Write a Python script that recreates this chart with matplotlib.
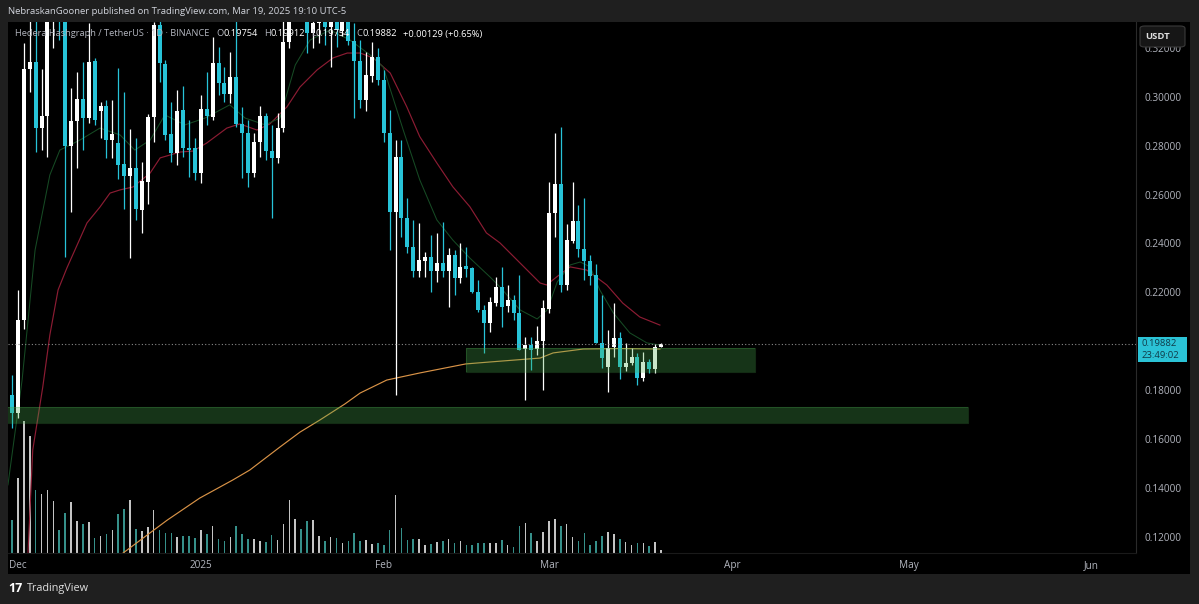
import matplotlib
matplotlib.use("Agg")
import matplotlib.pyplot as plt
import matplotlib.dates as mdates
from matplotlib.patches import Rectangle, FancyBboxPatch
import numpy as np
import pandas as pd

plt.rcParams['font.family'] = ['Open Sans', 'DejaVu Sans']

W, H = 1199, 604

publisher_line = "NebraskanGooner published on TradingView.com, Mar 19, 2025 19:10 UTC-5"
symbol_line = "Hedera Hashgraph / TetherUS · 1D · BINANCE"
quote_ccy = "USDT"
bar_countdown = "23:49:02"
first_bar = "2024-11-30"

# daily HBAR/USDT bars, 2024-11-30 .. 2025-03-20
opens = [0.1780, 0.1705, 0.2087, 0.3113, 0.3144, 0.2874, 0.2921, 0.3450, 0.3500, 0.3400,
         0.2799, 0.2900, 0.2990, 0.2914, 0.3148, 0.2943, 0.2962, 0.2823, 0.2812, 0.2725,
         0.2676, 0.2710, 0.2537, 0.2653, 0.2919, 0.3294, 0.3134, 0.2847, 0.2769, 0.2946,
         0.2790, 0.2789, 0.2689, 0.2949, 0.2919, 0.3137, 0.3055, 0.3011, 0.3082, 0.2889,
         0.2851, 0.2687, 0.2816, 0.2921, 0.2779, 0.2748, 0.2871, 0.3225, 0.3550, 0.3700,
         0.3450, 0.3260, 0.3303, 0.3380, 0.3284, 0.3350, 0.3270, 0.3307, 0.3230, 0.3148,
         0.2987, 0.3085, 0.3162, 0.3069, 0.2851, 0.2530, 0.2752, 0.2503, 0.2387, 0.2288,
         0.2329, 0.2343, 0.2288, 0.2319, 0.2288, 0.2353, 0.2257, 0.2309, 0.2298, 0.2203,
         0.2128, 0.2073, 0.2158, 0.2223, 0.2144, 0.2169, 0.2114, 0.1967, 0.1984, 0.1967,
         0.2002, 0.2131, 0.2526, 0.2643, 0.2230, 0.2411, 0.2492, 0.2376, 0.2329, 0.2271,
         0.1994, 0.1896, 0.1975, 0.2012, 0.1896, 0.1910, 0.1934, 0.1848, 0.1916, 0.1885,
         0.19754]
highs = [0.1862, 0.2210, 0.3220, 0.3450, 0.3350, 0.3113, 0.3600, 0.3650, 0.3620, 0.3480,
         0.3035, 0.3103, 0.3144, 0.3300, 0.3158, 0.2980, 0.2987, 0.2987, 0.3117, 0.3018,
         0.2867, 0.2830, 0.2734, 0.2928, 0.3307, 0.3310, 0.3150, 0.2980, 0.3028, 0.3045,
         0.2905, 0.2831, 0.3007, 0.3103, 0.3246, 0.3205, 0.3123, 0.3185, 0.3350, 0.2960,
         0.2905, 0.2853, 0.2962, 0.2932, 0.2885, 0.2932, 0.3315, 0.3650, 0.4000, 0.3850,
         0.3600, 0.3400, 0.3500, 0.3450, 0.3450, 0.3400, 0.3400, 0.3400, 0.3300, 0.3232,
         0.3185, 0.3225, 0.3198, 0.3110, 0.2946, 0.2823, 0.2823, 0.2585, 0.2496, 0.2482,
         0.2366, 0.2435, 0.2441, 0.2489, 0.2380, 0.2373, 0.2403, 0.2387, 0.2305, 0.2250,
         0.2148, 0.2182, 0.2264, 0.2305, 0.2230, 0.2189, 0.2271, 0.2018, 0.2018, 0.2062,
         0.2169, 0.2653, 0.2853, 0.2878, 0.2480, 0.2653, 0.2557, 0.2585, 0.2353, 0.2316,
         0.2189, 0.2046, 0.2158, 0.2039, 0.1991, 0.1971, 0.1953, 0.1957, 0.1926, 0.1989,
         0.19912]
lows = [0.1645, 0.1686, 0.2050, 0.3021, 0.2775, 0.2782, 0.2755, 0.3200, 0.3233, 0.2346,
        0.2530, 0.2710, 0.2782, 0.2893, 0.2885, 0.2830, 0.2748, 0.2748, 0.2664, 0.2541,
        0.2339, 0.2496, 0.2441, 0.2560, 0.2816, 0.3062, 0.2823, 0.2734, 0.2721, 0.2755,
        0.2672, 0.2660, 0.2646, 0.2885, 0.2905, 0.3007, 0.2980, 0.2973, 0.2878, 0.2667,
        0.2632, 0.2673, 0.2755, 0.2741, 0.2503, 0.2728, 0.2857, 0.3200, 0.3400, 0.3350,
        0.3178, 0.3198, 0.3220, 0.3212, 0.3123, 0.3205, 0.3250, 0.3210, 0.2912, 0.2953,
        0.2943, 0.3062, 0.3048, 0.2816, 0.2373, 0.1780, 0.2428, 0.2360, 0.2264, 0.2264,
        0.2264, 0.2203, 0.2243, 0.2264, 0.2141, 0.2189, 0.2237, 0.2264, 0.2196, 0.2121,
        0.1950, 0.2039, 0.2144, 0.2059, 0.2121, 0.2087, 0.1962, 0.1759, 0.1882, 0.1944,
        0.1800, 0.2117, 0.2425, 0.2203, 0.2209, 0.2401, 0.2346, 0.2250, 0.2230, 0.1991,
        0.1889, 0.1793, 0.1937, 0.1844, 0.1879, 0.1903, 0.1821, 0.1838, 0.1869, 0.1869,
        0.19754]
closes = [0.1705, 0.2087, 0.3113, 0.3144, 0.2874, 0.2921, 0.3450, 0.3500, 0.3400, 0.2799,
          0.2900, 0.2990, 0.2914, 0.3144, 0.2905, 0.2962, 0.2823, 0.2847, 0.2721, 0.2676,
          0.2710, 0.2540, 0.2655, 0.2919, 0.3294, 0.3137, 0.2844, 0.2769, 0.2943, 0.2789,
          0.2782, 0.2687, 0.2949, 0.2921, 0.3137, 0.3055, 0.3011, 0.3082, 0.2889, 0.2851,
          0.2687, 0.2816, 0.2921, 0.2779, 0.2748, 0.2874, 0.3225, 0.3550, 0.3700, 0.3450,
          0.3260, 0.3303, 0.3380, 0.3284, 0.3350, 0.3273, 0.3307, 0.3230, 0.3148, 0.2987,
          0.3089, 0.3162, 0.3069, 0.2851, 0.2530, 0.2752, 0.2503, 0.2387, 0.2288, 0.2332,
          0.2343, 0.2288, 0.2319, 0.2288, 0.2353, 0.2257, 0.2305, 0.2294, 0.2203, 0.2128,
          0.2073, 0.2162, 0.2223, 0.2141, 0.2169, 0.2114, 0.1966, 0.1984, 0.1964, 0.2002,
          0.2135, 0.2526, 0.2643, 0.2230, 0.2414, 0.2492, 0.2376, 0.2329, 0.2268, 0.1994,
          0.1930, 0.1971, 0.2012, 0.1896, 0.1912, 0.1934, 0.1848, 0.1916, 0.1885, 0.19753,
          0.19882]
# traded volume, tens of millions of HBAR
volumes = [33, 75, 132, 117, 63, 59, 63, 52, 23, 40,
           51, 32, 29, 31, 15, 17, 19, 23, 39, 44,
           53, 24, 22, 26, 43, 23, 20, 20, 16, 17,
           17, 15, 23, 19, 27, 14, 12, 16, 27, 19,
           14, 14, 12, 11, 18, 13, 29, 53, 34, 24,
           32, 33, 17, 12, 16, 15, 10, 12, 20, 12,
           13, 9, 10, 8, 23, 58, 25, 13, 14, 14,
           8, 9, 11, 12, 14, 10, 12, 8, 8, 10,
           10, 10, 10, 13, 8, 6, 27, 30, 20, 12,
           21, 32, 34, 27, 29, 16, 12, 20, 8, 12,
           17, 21, 19, 14, 11, 8, 10, 10, 7, 11,
           3]

# moving averages, knots as (days after 2024-12-01, price)
ma_fast_days = [-1.7, 0.7, 2.9, 5.4, 7.1, 10.5, 13.9, 17.3, 19.8, 22.4, 24.9, 28.3, 31.7,
                35.9, 38.5, 41.9, 44.4, 47.0, 49.5, 52.9, 56.3, 59.7, 61.9, 65.3, 68.1,
                71.0, 73.7, 76.6, 80.0, 81.7, 85.1, 88.0, 89.7, 91.4, 93.6, 95.3, 97.0,
                98.6, 100.9, 103.7, 106.6, 108.8]
ma_fast_vals = [0.1412, 0.1841, 0.2373, 0.2680, 0.2782, 0.2823, 0.2872, 0.2844, 0.2782,
                0.2823, 0.2926, 0.2885, 0.2913, 0.2967, 0.2913, 0.2885, 0.2913, 0.3130,
                0.3232, 0.3273, 0.3232, 0.3171, 0.3122, 0.2864, 0.2660, 0.2496, 0.2414,
                0.2340, 0.2263, 0.2222, 0.2128, 0.2091, 0.2128, 0.2242, 0.2312, 0.2324,
                0.2304, 0.2210, 0.2116, 0.2034, 0.1993, 0.1984]
ma_mid_days = [1.7, 2.5, 4.2, 5.4, 6.8, 8.3, 11.7, 13.9, 15.6, 17.3, 19.5, 22.4, 24.1,
               27.5, 29.7, 32.0, 35.4, 37.6, 40.5, 42.7, 45.6, 47.8, 50.7, 53.4, 55.8,
               58.0, 60.2, 63.1, 65.9, 68.1, 71.0, 73.7, 76.6, 79.4, 81.7, 85.1, 88.5,
               89.6, 91.3, 93.6, 96.4, 99.8, 102.5, 105.4, 108.8]
ma_mid_vals = [0.1133, 0.1554, 0.1812, 0.2025, 0.2210, 0.2300, 0.2484, 0.2549, 0.2606,
               0.2619, 0.2631, 0.2688, 0.2750, 0.2774, 0.2778, 0.2811, 0.2872, 0.2889,
               0.2864, 0.2889, 0.2959, 0.3040, 0.3110, 0.3159, 0.3179, 0.3179, 0.3159,
               0.3097, 0.2959, 0.2837, 0.2729, 0.2632, 0.2550, 0.2443, 0.2402, 0.2320,
               0.2238, 0.2230, 0.2263, 0.2304, 0.2291, 0.2230, 0.2156, 0.2099, 0.2066]
ma_slow_days = [17.8, 21.9, 25.3, 30.8, 36.4, 39.3, 44.4, 47.8, 51.2, 55.4, 58.0, 62.5,
                68.1, 75.9, 80.0, 88.5, 90.7, 95.8, 102.0, 108.8]
ma_slow_vals = [0.1133, 0.1207, 0.1268, 0.1358, 0.1432, 0.1473, 0.1567, 0.1628, 0.1678,
                0.1743, 0.1788, 0.1841, 0.1870, 0.1907, 0.1915, 0.1931, 0.1952, 0.1968,
                0.1970, 0.1968]

# horizontal zones drawn on the chart
upper_zone = dict(start="2025-02-14 22:00", end="2025-04-04 22:00", low=0.1875, high=0.1973)
lower_zone = dict(start="2024-11-20", end="2025-05-11", low=0.1665, high=0.1731)

month_ticks = ["2024-12-01", "2025-01-01", "2025-02-01", "2025-03-01",
               "2025-04-01", "2025-05-01", "2025-06-01"]
month_labels = ["Dec", "2025", "Feb", "Mar", "Apr", "May", "Jun"]
# 0.20 sits under the last-price tag, so it is left off the scale
price_ticks = [0.12, 0.14, 0.16, 0.18, 0.22, 0.24, 0.26, 0.28, 0.30, 0.32]

# ---------------------------------------------------------------- styling
FRAME = "#1f1f1f"
PANEL = "#000000"
UP = "#ffffff"
DOWN = "#27c3d8"
VOL_UP = "#c4c4c4"
VOL_DOWN = "#36908a"
ZONE = "#4caf50"
AXIS_TXT = "#b2b5be"


def fx(px):
    return px / W


def fy(py):
    return 1 - py / H


fig = plt.figure(figsize=(W / 100, H / 100), dpi=100, facecolor=FRAME)

# black chart panel including price and time scales (behind everything)
fig.patches.append(Rectangle((fx(8), fy(574)), fx(1190) - fx(8), fy(22) - fy(574),
                             transform=fig.transFigure, facecolor=PANEL,
                             edgecolor="none", zorder=-10))

ax = fig.add_axes([fx(8), fy(553), fx(1136) - fx(8), fy(22) - fy(553)])
ax.set_facecolor(PANEL)

dates = pd.date_range(first_bar, periods=len(opens), freq="D")
x = mdates.date2num(dates)
o = np.array(opens)
h = np.array(highs)
l = np.array(lows)
c = np.array(closes)
up = c >= o
body_col = np.where(up, UP, DOWN)

base = mdates.date2num(pd.Timestamp("2024-12-01"))

# volume overlay on its own scale
axv = ax.twinx()
axv.set_ylim(0, 531)
axv.bar(x, volumes, width=0.28, color=np.where(up, VOL_UP, VOL_DOWN), zorder=1)
axv.axis("off")
ax.set_zorder(2)
axv.set_zorder(1)
ax.patch.set_visible(False)
axv.patch.set_visible(False)

# moving averages
ax.plot(base + np.array(ma_slow_days), ma_slow_vals, color="#d99347", lw=0.85, zorder=2)
ax.plot(base + np.array(ma_mid_days), ma_mid_vals, color="#8c1c33", lw=0.85, zorder=2)
ax.plot(base + np.array(ma_fast_days), ma_fast_vals, color="#164a24", lw=0.75, zorder=2)

# candles
ax.vlines(x, l, h, colors=body_col, lw=0.9, zorder=3)
body_lo = np.minimum(o, c)
body_h = np.maximum(np.abs(c - o), 0.0006)
ax.bar(x, body_h, bottom=body_lo, width=0.68, color=body_col, linewidth=0, zorder=4)

# zones
for z in (upper_zone, lower_zone):
    x0 = mdates.date2num(pd.Timestamp(z["start"]))
    x1 = mdates.date2num(pd.Timestamp(z["end"]))
    ax.add_patch(Rectangle((x0, z["low"]), x1 - x0, z["high"] - z["low"],
                           facecolor=ZONE, alpha=0.30, edgecolor="none", zorder=5))
    ax.add_patch(Rectangle((x0, z["low"]), x1 - x0, z["high"] - z["low"],
                           facecolor="none", edgecolor=ZONE, alpha=0.25, lw=0.8, zorder=5))

# last price line
ax.axhline(closes[-1], color="#8a8a8a", lw=0.8, ls=(0, (1, 2)), zorder=6)

ax.set_xlim(base - 1.69, base + 189.5)
ax.set_ylim(0.11334, 0.33060)

ax.set_xticks(mdates.date2num(pd.to_datetime(month_ticks)))
ax.set_xticklabels(month_labels)
ax.yaxis.tick_right()
ax.set_yticks(price_ticks)
ax.set_yticklabels([f"{p:.5f}" for p in price_ticks])
ax.tick_params(axis="both", length=0, colors=AXIS_TXT, labelsize=7.2)
ax.tick_params(axis="x", pad=5)
ax.tick_params(axis="y", pad=6)
for s in ("top", "left"):
    ax.spines[s].set_visible(False)
ax.spines["right"].set_color("#2a2a2a")
ax.spines["bottom"].set_color("#1a1a1a")
ax.spines["right"].set_linewidth(0.8)
ax.spines["bottom"].set_linewidth(0.8)

# header lines
fig.text(fx(8), fy(12), publisher_line, color="#d1d4dc", fontsize=6.8, va="center", ha="left")

renderer = fig.canvas.get_renderer()
pos = fx(15)
last = dict(o=opens[-1], h=highs[-1], l=lows[-1], c=closes[-1])
chg = closes[-1] - closes[-2]
pct = chg / closes[-2] * 100
segments = [(symbol_line, "#b2b5be", 7),
            ("O", "#b2b5be", 0), (f"{last['o']:.5f}", "#ffffff", 6),
            ("H", "#b2b5be", 0), (f"{last['h']:.5f}", "#ffffff", 6),
            ("L", "#b2b5be", 0), (f"{last['l']:.5f}", "#ffffff", 6),
            ("C", "#b2b5be", 0), (f"{last['c']:.5f}", "#ffffff", 6),
            (f"{chg:+.5f} ({pct:+.2f}%)", "#ffffff", 0)]
for txt, col, gap in segments:
    t = fig.text(pos, fy(34), txt, color=col, fontsize=6.7, va="center", ha="left", zorder=10)
    bb = t.get_window_extent(renderer)
    pos = (bb.x1 + gap) / W

# USDT button (covers the top of the 0.32000 label)
fig.patches.append(FancyBboxPatch((fx(1140), fy(47)), fx(1185) - fx(1140), fy(26) - fy(47),
                                  boxstyle="round,pad=0,rounding_size=0.004",
                                  transform=fig.transFigure, facecolor="#161616",
                                  edgecolor="#3a3a3a", lw=0.8, zorder=20))
fig.text(fx(1158), fy(36.5), quote_ccy, color="#e0e0e0", fontsize=6.8, fontweight="bold",
         ha="center", va="center", zorder=21)

# last price tag
fig.patches.append(Rectangle((fx(1138), fy(362)), fx(1187) - fx(1138), fy(337) - fy(362),
                             transform=fig.transFigure, facecolor="#2bc3d6",
                             edgecolor="none", zorder=20))
fig.text(fx(1142), fy(343), f"{closes[-1]:.5f}", color="#103a48", fontsize=6.8,
         ha="left", va="center", zorder=21)
fig.text(fx(1142), fy(356), bar_countdown, color="#103a48", fontsize=6.8,
         ha="left", va="center", zorder=21)

# footer logo
fig.text(fx(8), fy(589), "17", color="#ffffff", fontsize=9, fontweight="bold",
         ha="left", va="center")
fig.text(fx(27), fy(589), "TradingView", color="#e0e0e0", fontsize=7.8,
         ha="left", va="center")

fig.savefig("out.png", dpi=100, facecolor=FRAME)
